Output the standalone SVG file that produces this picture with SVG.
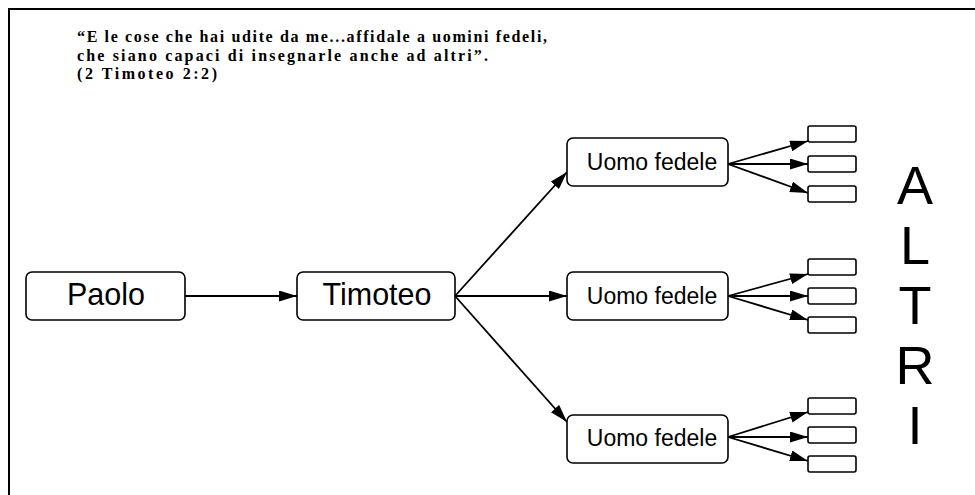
<svg xmlns="http://www.w3.org/2000/svg" width="975" height="495" viewBox="0 0 975 495">
<style>
.node{fill:#fff;stroke:#000;stroke-width:1.6}
.small{fill:#fff;stroke:#000;stroke-width:1.6}
.lbl{font-family:"Liberation Sans",Arial,sans-serif;fill:#000;text-anchor:middle}
.big{font-size:30.5px}
.mid{font-size:23px}
.altri{font-family:"Liberation Sans",Arial,sans-serif;font-size:54px;text-anchor:middle;fill:#000}
.quote{font-family:"Liberation Serif","Times New Roman",serif;font-size:16px;font-weight:bold;fill:#000}
.edge{stroke:#000;stroke-width:1.8;fill:none;marker-end:url(#ah)}
</style>
<defs>
<marker id="ah" markerUnits="userSpaceOnUse" markerWidth="18" markerHeight="11" refX="18" refY="5.5" orient="auto">
<path d="M0,0 L18,5.5 L0,11 z" fill="#000"/>
</marker>
</defs>
<rect width="975" height="495" fill="#fff"/>
<path d="M9,495 L9,9 L975,9" fill="none" stroke="#000" stroke-width="2"/>
<g id="quote">
<text class="quote" x="77" y="42" textLength="470" lengthAdjust="spacing">“E le cose che hai udite da me...affidale a uomini fedeli,</text>
<text class="quote" x="77" y="60.5" textLength="411" lengthAdjust="spacing">che siano capaci di insegnarle anche ad altri”.</text>
<text class="quote" x="77" y="79" textLength="140" lengthAdjust="spacing">(2 Timoteo 2:2)</text>
</g>
<g id="connectors">
<path class="edge" d="M185,296 L297,296"/>
<path class="edge" d="M455,296 L567,172"/>
<path class="edge" d="M455,296 L567,296"/>
<path class="edge" d="M455,296 L567,422"/>
<path class="edge" d="M728,164 L808,141"/>
<path class="edge" d="M728,164 L808,164"/>
<path class="edge" d="M728,164 L808,193"/>
<path class="edge" d="M728,296 L808,274"/>
<path class="edge" d="M728,296 L808,296"/>
<path class="edge" d="M728,296 L808,320"/>
<path class="edge" d="M728,437 L808,412"/>
<path class="edge" d="M728,437 L808,437"/>
<path class="edge" d="M728,437 L808,461"/>
</g>
<g id="paolo">
<rect class="node" x="26" y="272" width="159" height="48" rx="6"/>
<text class="lbl big" x="106" y="305">Paolo</text>
</g>
<g id="timoteo">
<rect class="node" x="297" y="272" width="158" height="48" rx="6"/>
<text class="lbl big" x="377" y="305">Timoteo</text>
</g>
<g id="uomo1">
<rect class="node" x="567" y="138" width="161" height="48" rx="6"/>
<text class="lbl mid" x="652" y="170">Uomo fedele</text>
</g>
<g id="uomo2">
<rect class="node" x="567" y="272" width="161" height="48" rx="6"/>
<text class="lbl mid" x="652" y="304">Uomo fedele</text>
</g>
<g id="uomo3">
<rect class="node" x="567" y="415" width="161" height="48" rx="6"/>
<text class="lbl mid" x="652" y="446">Uomo fedele</text>
</g>
<g id="altri1a"><rect class="small" x="808" y="126" width="48" height="16" rx="2"/></g>
<g id="altri1b"><rect class="small" x="808" y="156" width="48" height="16" rx="2"/></g>
<g id="altri1c"><rect class="small" x="808" y="186" width="48" height="16" rx="2"/></g>
<g id="altri2a"><rect class="small" x="808" y="259" width="48" height="16" rx="2"/></g>
<g id="altri2b"><rect class="small" x="808" y="288" width="48" height="16" rx="2"/></g>
<g id="altri2c"><rect class="small" x="808" y="317" width="48" height="16" rx="2"/></g>
<g id="altri3a"><rect class="small" x="808" y="398" width="48" height="16" rx="2"/></g>
<g id="altri3b"><rect class="small" x="808" y="427" width="48" height="16" rx="2"/></g>
<g id="altri3c"><rect class="small" x="808" y="456" width="48" height="16" rx="2"/></g>
<g id="altri">
<text class="altri" x="915" y="204">A</text>
<text class="altri" x="915" y="264">L</text>
<text class="altri" x="915" y="324">T</text>
<text class="altri" x="915" y="384">R</text>
<text class="altri" x="915" y="444">I</text>
</g>
</svg>
